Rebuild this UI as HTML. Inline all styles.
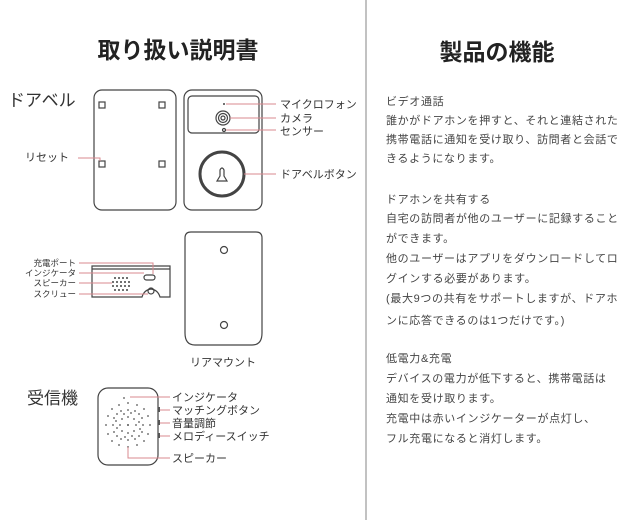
<!DOCTYPE html>
<html><head><meta charset="utf-8"><style>
html,body{margin:0;padding:0;background:#fff;}
svg{display:block;}
text{font-family:"Liberation Sans","Noto Sans CJK JP",sans-serif;fill:#333;}
.r text{font-size:11px;letter-spacing:0.65px;fill:#444;}
</style></head><body>
<svg width="640" height="520" viewBox="0 0 640 520" xmlns="http://www.w3.org/2000/svg">
<line x1="366" y1="0" x2="366" y2="520" stroke="#999" stroke-width="1.2"/>
<text x="178" y="58" font-size="23" font-weight="bold" text-anchor="middle" style="fill:#222">取り扱い説明書</text>
<text x="497" y="60" font-size="23" font-weight="bold" text-anchor="middle" style="fill:#222">製品の機能</text>

<g fill="none" stroke="#444" stroke-width="1.2">
<rect x="94" y="90" width="82" height="120" rx="8"/>
<rect x="99" y="102" width="6" height="6"/><rect x="159" y="102" width="6" height="6"/>
<rect x="99" y="161" width="6" height="6"/><rect x="159" y="161" width="6" height="6"/>
<rect x="184" y="90" width="78" height="120" rx="8"/>
<rect x="188" y="96" width="71" height="37" rx="4"/>
<circle cx="223" cy="118" r="7"/><circle cx="223" cy="118" r="4.5"/><circle cx="223" cy="118" r="2"/>
<circle cx="224" cy="130" r="1.5"/>
<circle cx="222" cy="174" r="22" stroke-width="3"/>
<path d="M217 181 L227 181 L224 176 L224 170 Q222 166 220 170 L220 176 Z"/>
</g>
<circle cx="224" cy="104" r="1" fill="#444"/>
<g stroke="#d9888f" stroke-width="1" fill="none">
<line x1="226" y1="104" x2="276" y2="104"/><line x1="230" y1="118" x2="276" y2="118"/>
<line x1="226" y1="130" x2="276" y2="130"/><line x1="244" y1="174" x2="276" y2="174"/>
<polyline points="78,158 100,158 100,161"/>
</g>
<text x="8" y="106" font-size="17">ドアベル</text>
<text x="25" y="161" font-size="11">リセット</text>
<text x="280" y="108" font-size="11">マイクロフォン</text>
<text x="280" y="122" font-size="11">カメラ</text>
<text x="280" y="135" font-size="11">センサー</text>
<text x="280" y="178" font-size="11">ドアベルボタン</text>

<g fill="none" stroke="#444" stroke-width="1.2">
<path d="M92 266 L170 266 L170 297 L160 297 Q158 290 151 289 Q144 290 142 297 L92 297 Z"/>
<line x1="92" y1="269" x2="170" y2="269"/>
<rect x="144" y="275" width="11" height="5" rx="2.5"/>
<circle cx="151" cy="291" r="3"/>
<path d="M185 238 Q185 232 191 232 L256 232 Q262 232 262 238 L262 333 Q262 345 252 345 L195 345 Q185 345 185 333 Z"/>
<circle cx="224" cy="250" r="3.5"/><circle cx="224" cy="325" r="3.5"/>
</g>
<g fill="#444">
<circle cx="115" cy="278" r="1"/><circle cx="119" cy="278" r="1"/><circle cx="123" cy="278" r="1"/><circle cx="127" cy="278" r="1"/>
<circle cx="113" cy="282" r="1"/><circle cx="117" cy="282" r="1"/><circle cx="121" cy="282" r="1"/><circle cx="125" cy="282" r="1"/><circle cx="129" cy="282" r="1"/>
<circle cx="113" cy="286" r="1"/><circle cx="117" cy="286" r="1"/><circle cx="121" cy="286" r="1"/><circle cx="125" cy="286" r="1"/><circle cx="129" cy="286" r="1"/>
<circle cx="115" cy="290" r="1"/><circle cx="119" cy="290" r="1"/><circle cx="123" cy="290" r="1"/><circle cx="127" cy="290" r="1"/>
</g>
<g stroke="#d9888f" stroke-width="1" fill="none">
<polyline points="79,263 153,263 153,274"/>
<line x1="79" y1="273" x2="144" y2="273"/>
<line x1="79" y1="283" x2="112" y2="283"/>
<line x1="79" y1="294" x2="148" y2="294"/>
</g>
<g font-size="8.5">
<text x="76" y="266" text-anchor="end">充電ポート</text>
<text x="76" y="276" text-anchor="end">インジケータ</text>
<text x="76" y="286" text-anchor="end">スピーカー</text>
<text x="76" y="297" text-anchor="end">スクリュー</text>
</g>
<text x="190" y="366" font-size="11">リアマウント</text>

<text x="27" y="404" font-size="17">受信機</text>
<rect x="98" y="388" width="60" height="77" rx="10" fill="none" stroke="#444" stroke-width="1.2"/>
<g fill="#555">
<circle cx="128" cy="425" r="1"/>
<circle cx="128" cy="417" r="0.9"/><circle cx="128" cy="433" r="0.9"/><circle cx="120" cy="425" r="0.9"/><circle cx="136" cy="425" r="0.9"/>
<circle cx="122" cy="419" r="0.9"/><circle cx="134" cy="419" r="0.9"/><circle cx="122" cy="431" r="0.9"/><circle cx="134" cy="431" r="0.9"/>
<circle cx="128" cy="410" r="0.9"/><circle cx="128" cy="440" r="0.9"/><circle cx="113" cy="425" r="0.9"/><circle cx="143" cy="425" r="0.9"/>
<circle cx="117" cy="414" r="0.9"/><circle cx="139" cy="414" r="0.9"/><circle cx="117" cy="436" r="0.9"/><circle cx="139" cy="436" r="0.9"/>
<circle cx="121" cy="411" r="0.9"/><circle cx="135" cy="411" r="0.9"/><circle cx="121" cy="439" r="0.9"/><circle cx="135" cy="439" r="0.9"/>
<circle cx="114" cy="418" r="0.9"/><circle cx="142" cy="418" r="0.9"/><circle cx="114" cy="432" r="0.9"/><circle cx="142" cy="432" r="0.9"/>
<circle cx="128" cy="403" r="0.9"/><circle cx="128" cy="447" r="0.9"/><circle cx="106" cy="425" r="0.9"/><circle cx="150" cy="425" r="0.9"/>
<circle cx="112" cy="409" r="0.9"/><circle cx="144" cy="409" r="0.9"/><circle cx="112" cy="441" r="0.9"/><circle cx="144" cy="441" r="0.9"/>
<circle cx="119" cy="405" r="0.9"/><circle cx="137" cy="405" r="0.9"/><circle cx="119" cy="445" r="0.9"/><circle cx="137" cy="445" r="0.9"/>
<circle cx="108" cy="416" r="0.9"/><circle cx="148" cy="416" r="0.9"/><circle cx="108" cy="434" r="0.9"/><circle cx="148" cy="434" r="0.9"/>
<circle cx="124" cy="414" r="0.9"/><circle cx="132" cy="436" r="0.9"/><circle cx="117" cy="428" r="0.9"/><circle cx="139" cy="422" r="0.9"/>
<circle cx="131" cy="413" r="0.9"/><circle cx="125" cy="437" r="0.9"/><circle cx="116" cy="421" r="0.9"/><circle cx="140" cy="429" r="0.9"/>
<circle cx="124" cy="398" r="0.9"/>
<rect x="158" y="407" width="2" height="5"/><rect x="158" y="420" width="2" height="5"/><rect x="158" y="433" width="2" height="5"/>
</g>
<g stroke="#d9888f" stroke-width="1" fill="none">
<line x1="130" y1="397" x2="170" y2="397"/>
<line x1="160" y1="410" x2="170" y2="410"/>
<line x1="160" y1="423" x2="170" y2="423"/>
<line x1="160" y1="436" x2="170" y2="436"/>
<polyline points="128,447 128,458 170,458"/>
</g>
<g font-size="11">
<text x="172" y="401">インジケータ</text>
<text x="172" y="414">マッチングボタン</text>
<text x="172" y="427">音量調節</text>
<text x="172" y="440">メロディースイッチ</text>
<text x="172" y="462">スピーカー</text>
</g>

<g class="r">
<text x="386" y="105">ビデオ通話</text>
<text x="386" y="124">誰かがドアホンを押すと、それと連結された</text>
<text x="386" y="143">携帯電話に通知を受け取り、訪問者と会話で</text>
<text x="386" y="162">きるようになります。</text>
<text x="386" y="203">ドアホンを共有する</text>
<text x="386" y="222">自宅の訪問者が他のユーザーに記録すること</text>
<text x="386" y="242">ができます。</text>
<text x="386" y="262">他のユーザーはアプリをダウンロードしてロ</text>
<text x="386" y="282">グインする必要があります。</text>
<text x="386" y="302">(最大9つの共有をサポートしますが、ドアホ</text>
<text x="386" y="324">ンに応答できるのは1つだけです。)</text>
<text x="386" y="362">低電力&amp;充電</text>
<text x="386" y="382">デバイスの電力が低下すると、携帯電話は</text>
<text x="386" y="402">通知を受け取ります。</text>
<text x="386" y="422">充電中は赤いインジケーターが点灯し、</text>
<text x="386" y="442">フル充電になると消灯します。</text>
</g>
</svg>
</body></html>
